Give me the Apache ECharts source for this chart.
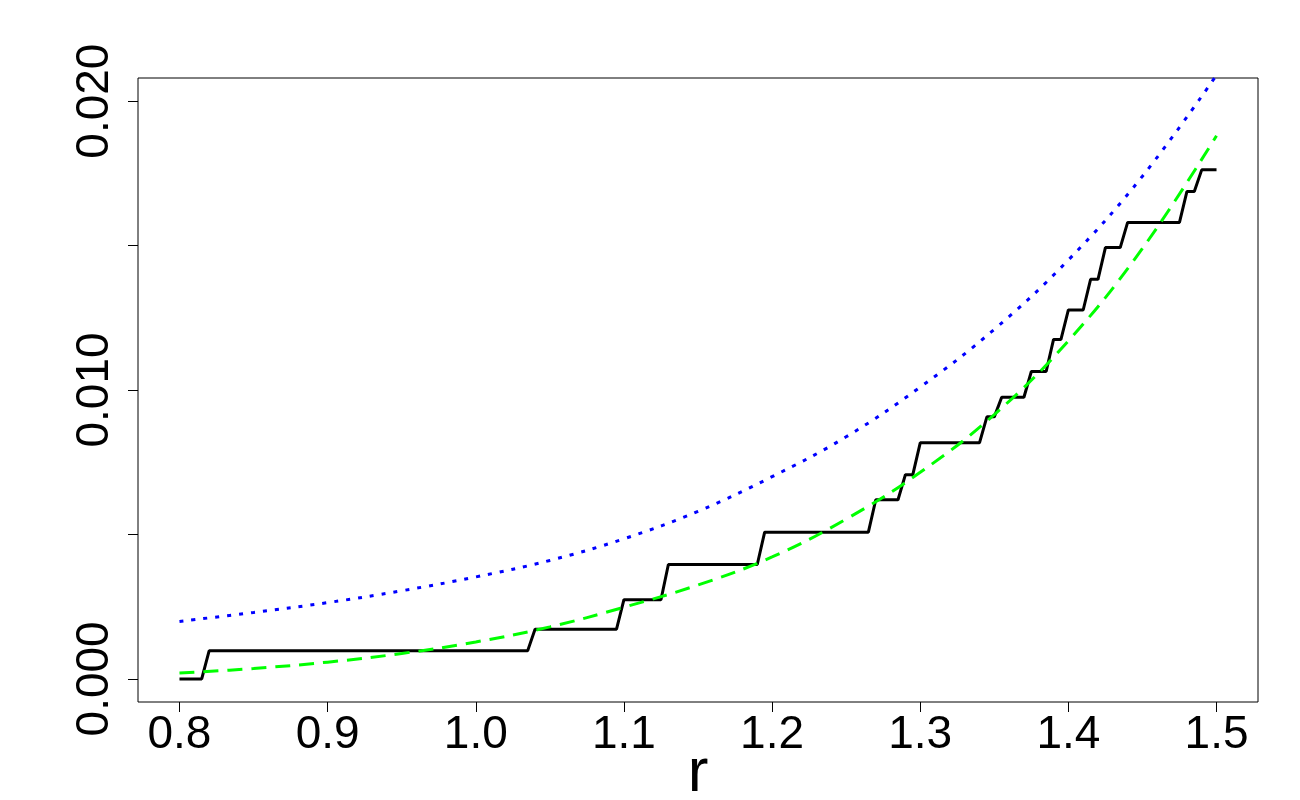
<!doctype html>
<html lang="en">
  <head>
    <meta charset="UTF-8" />
    <title>r</title>
    <style>
      html,
      body {
        width: 100%;
        height: 100%;
        margin: 0;
        padding: 0;
        background: #fff;
      }
      #Echart {
        width: 1300px;
        height: 800px;
      }
    </style>
  </head>

  <body>
    <div id="Echart"></div>
    <script src="https://cdn.jsdelivr.net/npm/echarts@6/dist/echarts.min.js"></script>
    <script type="text/javascript">
      // step curve (black), corner points
      const stepR = [
        0.8, 0.815, 0.82, 1.035, 1.04, 1.095, 1.1, 1.125, 1.13, 1.19, 1.195, 1.265, 1.27, 1.285, 1.29,
        1.295, 1.3, 1.34, 1.345, 1.35, 1.355, 1.37, 1.375, 1.385, 1.39, 1.395, 1.4, 1.41, 1.415, 1.42,
        1.425, 1.435, 1.44, 1.475, 1.48, 1.485, 1.49, 1.5,
      ]
      const stepY = [
        0, 0, 0.00097, 0.00097, 0.00172, 0.00172, 0.00274, 0.00274, 0.00396, 0.00396, 0.00508, 0.00508,
        0.0062, 0.0062, 0.00707, 0.00707, 0.00817, 0.00817, 0.00907, 0.00907, 0.00975, 0.00975, 0.01064,
        0.01064, 0.01175, 0.01175, 0.01277, 0.01277, 0.01383, 0.01383, 0.01493, 0.01493, 0.0158, 0.0158,
        0.01687, 0.01687, 0.01762, 0.01762,
      ]

      // smooth curves
      const curveR = [0.8, 0.85, 0.9, 0.95, 1.0, 1.05, 1.1, 1.15, 1.2, 1.25, 1.3, 1.35, 1.4, 1.45, 1.5]
      const blueY = [
        0.00199, 0.0023, 0.00264, 0.00305, 0.00353, 0.0041, 0.00485, 0.0058, 0.007, 0.00838, 0.0101,
        0.0121, 0.0145, 0.0174, 0.0209,
      ]
      const greenY = [
        0.0002, 0.00036, 0.00058, 0.00088, 0.00128, 0.0018, 0.00248, 0.00325, 0.00422, 0.00553, 0.00715,
        0.00915, 0.0117, 0.0149, 0.0188,
      ]

      // axis ticks
      const xTicks = [0.8, 0.9, 1.0, 1.1, 1.2, 1.3, 1.4, 1.5]
      const yTicks = [0, 0.005, 0.01, 0.015, 0.02]
      const yLabels = [0, 0.01, 0.02]

      const pairs = (xs, ys) => xs.map((x, i) => [x, ys[i]])
      const font = 'Liberation Sans'

      let chart = null
      function initEchart() {
        const option = {
          animation: false,
          backgroundColor: '#fff',
          grid: {
            left: 138,
            right: 42,
            top: 78,
            bottom: 98,
            show: true,
            borderColor: '#000',
            borderWidth: 1,
            containLabel: false,
            outerBoundsMode: 'none',
          },
          xAxis: {
            type: 'value',
            min: 0.772,
            max: 1.528,
            name: 'r',
            nameLocation: 'middle',
            nameGap: 41,
            nameMoveOverlap: false,
            nameTextStyle: { fontFamily: font, fontSize: 62, fontWeight: 'normal', color: '#000' },
            axisLine: { show: false, onZero: false },
            splitLine: { show: false },
            axisTick: {
              show: true,
              length: 10,
              customValues: xTicks,
              lineStyle: { color: '#000', width: 1 },
            },
            axisLabel: {
              customValues: xTicks,
              margin: 10,
              fontFamily: font,
              fontSize: 46,
              color: '#000',
              formatter: (v) => v.toFixed(1),
            },
          },
          yAxis: {
            type: 'value',
            min: -0.0008,
            max: 0.0208,
            axisLine: { show: false, onZero: false },
            splitLine: { show: false },
            axisTick: {
              show: true,
              length: 10,
              customValues: yTicks,
              lineStyle: { color: '#000', width: 1 },
            },
            axisLabel: {
              customValues: yLabels,
              rotate: 90,
              margin: 20,
              fontFamily: font,
              fontSize: 46,
              color: '#000',
              formatter: (v) => v.toFixed(3),
            },
          },
          series: [
            {
              type: 'line',
              data: pairs(stepR, stepY),
              symbol: 'none',
              lineStyle: { color: '#000', width: 3 },
              z: 2,
            },
            {
              type: 'line',
              data: pairs(curveR, blueY),
              smooth: 0.4,
              symbol: 'none',
              lineStyle: { color: '#0000ff', width: 3, type: [4, 8], cap: 'butt' },
              z: 3,
            },
            {
              type: 'line',
              data: pairs(curveR, greenY),
              smooth: 0.4,
              symbol: 'none',
              lineStyle: { color: '#00ff00', width: 3, type: [15, 9], cap: 'butt' },
              z: 4,
            },
          ],
        }
        chart = echarts.init(document.getElementById('Echart'))
        chart.setOption(option)
      }
      window.onload = function () {
        initEchart()
      }
    </script>
  </body>
</html>
